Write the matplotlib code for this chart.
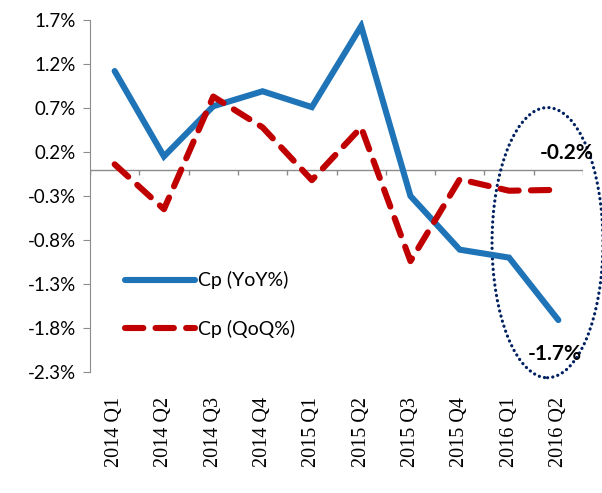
import matplotlib.pyplot as plt
from matplotlib.patches import Ellipse
from matplotlib.ticker import FuncFormatter

quarters = ['2014 Q1', '2014 Q2', '2014 Q3', '2014 Q4', '2015 Q1',
            '2015 Q2', '2015 Q3', '2015 Q4', '2016 Q1', '2016 Q2']
cp_yoy = [1.12, 0.15, 0.72, 0.89, 0.71, 1.63, -0.30, -0.91, -1.00, -1.71]
cp_qoq = [0.06, -0.45, 0.83, 0.48, -0.12, 0.48, -1.04, -0.11, -0.24, -0.23]
y_ticks = [1.7, 1.2, 0.7, 0.2, -0.3, -0.8, -1.3, -1.8, -2.3]

blue = '#1f74b8'
red = '#c00000'
navy = '#002060'
grey = '#8c8c8c'

fig = plt.figure(figsize=(6.02, 4.93), dpi=100)
ax = fig.add_axes([90 / 602, 1 - 372 / 493, 493 / 602, 352 / 493])

x = list(range(len(quarters)))
ax.plot(x, cp_yoy, color=blue, lw=4.4, solid_capstyle='round',
        solid_joinstyle='miter', label='Cp (YoY%)')
ax.plot(x, cp_qoq, color=red, lw=4.4, dashes=(3.0, 2.0),
        dash_capstyle='round', label='Cp (QoQ%)')

ax.set_xlim(-0.5, len(quarters) - 0.5)
ax.set_ylim(-2.3, 1.7)

# y axis: grey spine on the left only
for side in ['top', 'right', 'bottom']:
    ax.spines[side].set_visible(False)
ax.spines['left'].set_color(grey)
ax.set_yticks(y_ticks)
ax.yaxis.set_major_formatter(FuncFormatter(lambda v, p: f'{v:.1f}%'))
ax.tick_params(axis='y', length=5, color=grey, labelsize=13.5, pad=5)
for t in ax.get_yticklabels():
    t.set_fontfamily('Lato')

# zero line with category boundary ticks
ax.axhline(0, color=grey, lw=1, zorder=1)
ax.vlines([i - 0.5 for i in range(len(quarters) + 1)], -0.06, 0,
          color=grey, lw=1, zorder=1)

ax.set_xticks(x)
ax.set_xticklabels(quarters, rotation=90, family='Liberation Serif', fontsize=14.5)
ax.tick_params(axis='x', length=0, pad=18)

leg = ax.legend(loc='lower left', bbox_to_anchor=(0.035, 0.048), frameon=False,
                handlelength=3.6, handletextpad=0.15, labelspacing=1.55,
                prop={'family': 'Lato', 'size': 14})

# highlight of the last two quarters
ell = Ellipse((8.78, -0.83), 2.25, 3.07, fill=False, ec=navy, lw=2.3,
              ls=(0, (0.05, 1.6)), clip_on=False)
ell.set_capstyle('round')
ax.add_patch(ell)
ax.text(9.17, 0.19, f'{cp_qoq[-1]:.1f}%', ha='center', va='center',
        fontsize=15, fontweight='bold', family='Lato')
ax.text(8.92, -2.1, f'{cp_yoy[-1]:.1f}%', ha='center', va='center',
        fontsize=15, fontweight='bold', family='Lato')

fig.savefig('out.png', dpi=100)
